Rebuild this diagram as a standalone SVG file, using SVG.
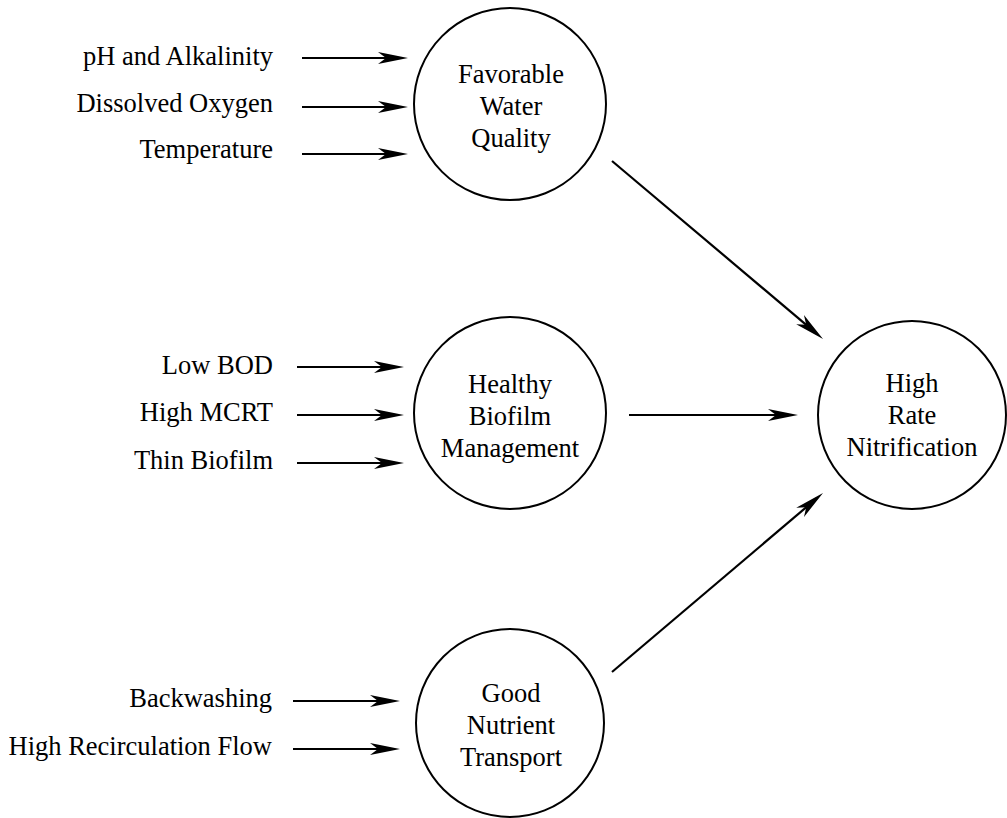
<svg xmlns="http://www.w3.org/2000/svg" width="1007" height="818" viewBox="0 0 1007 818">
<defs>
<style>
.node circle{fill:#fff;stroke:#000;stroke-width:2}
text{font-family:"Liberation Serif","Times New Roman",serif;font-size:26.5px;fill:#000}
.c{text-anchor:middle}
.l{text-anchor:end}
.conn line{stroke:#000;stroke-width:2.2;marker-end:url(#ah)}
</style>
<marker id="ah" markerWidth="32" markerHeight="14" refX="22" refY="7" orient="auto" markerUnits="userSpaceOnUse">
<path d="M0,1 L30,7 L0,13 L8,7 Z" fill="#000"/>
</marker>
</defs>
<rect width="1007" height="818" fill="#fff"/>
<g id="labels">
<text class="l" x="273" y="65">pH and Alkalinity</text>
<text class="l" x="273" y="112">Dissolved Oxygen</text>
<text class="l" x="273" y="158">Temperature</text>
<text class="l" x="273" y="374">Low BOD</text>
<text class="l" x="273" y="421">High MCRT</text>
<text class="l" x="273" y="469">Thin Biofilm</text>
<text class="l" x="272" y="707">Backwashing</text>
<text class="l" x="272" y="755">High Recirculation Flow</text>
</g>
<g id="node-water" class="node">
<circle cx="510" cy="104" r="96"/>
<text class="c" x="511" y="83">Favorable</text>
<text class="c" x="511" y="115">Water</text>
<text class="c" x="511" y="147">Quality</text>
</g>
<g id="node-biofilm" class="node">
<circle cx="510" cy="413" r="96"/>
<text class="c" x="510" y="393">Healthy</text>
<text class="c" x="510" y="425">Biofilm</text>
<text class="c" x="510" y="457">Management</text>
</g>
<g id="node-transport" class="node">
<circle cx="510" cy="723" r="94"/>
<text class="c" x="511" y="702">Good</text>
<text class="c" x="511" y="734">Nutrient</text>
<text class="c" x="511" y="766">Transport</text>
</g>
<g id="node-nitrification" class="node">
<circle cx="912" cy="415" r="94"/>
<text class="c" x="912" y="392">High</text>
<text class="c" x="912" y="424">Rate</text>
<text class="c" x="912" y="456">Nitrification</text>
</g>
<g id="connectors" class="conn">
<line x1="302" y1="58" x2="400" y2="58"/>
<line x1="302" y1="107" x2="400" y2="107"/>
<line x1="302" y1="154" x2="400" y2="154"/>
<line x1="297" y1="367" x2="396" y2="367"/>
<line x1="297" y1="415" x2="396" y2="415"/>
<line x1="297" y1="463" x2="396" y2="463"/>
<line x1="293" y1="701" x2="392" y2="701"/>
<line x1="293" y1="749" x2="392" y2="749"/>
<line x1="629" y1="415" x2="790" y2="415"/>
<line x1="612" y1="161" x2="816.9" y2="333.8"/>
<line x1="612" y1="672" x2="816.9" y2="498.2"/>
</g>
</svg>
